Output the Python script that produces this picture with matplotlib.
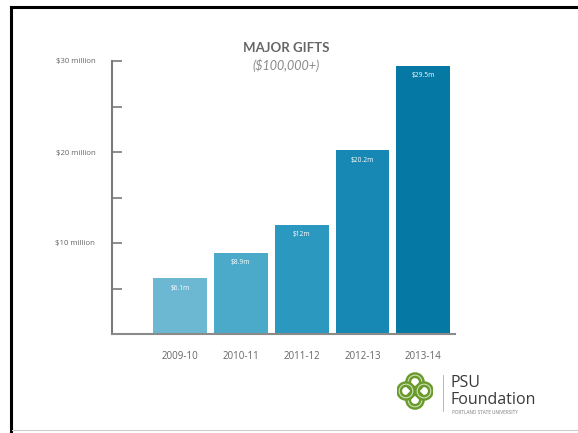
import matplotlib
matplotlib.use("Agg")
import matplotlib.pyplot as plt
from matplotlib.lines import Line2D
from matplotlib.patches import Circle

# fiscal years and major gift totals ($ millions)
years = ["2009-10", "2010-11", "2011-12", "2012-13", "2013-14"]
gifts = [6.1, 8.9, 12.0, 20.2, 29.5]
value_labels = ["$6.1m", "$8.9m", "$12m", "$20.2m", "$29.5m"]
bar_colors = ["#6cb7d2", "#4ba9c9", "#2b98bf", "#1688b3", "#0578a3"]
y_ticks = [5, 10, 15, 20, 25, 30]
y_tick_labels = ["", "$10 million", "", "$20 million", "", "$30 million"]

grey = "#666666"

fig = plt.figure(figsize=(5.78, 4.33), dpi=100)
fig.patch.set_facecolor("white")

ax = fig.add_axes([112 / 578, 1 - 334 / 433, (455 - 112) / 578, (334 - 61) / 433])
x = range(len(years))
ax.bar(x, gifts, width=0.885, color=bar_colors, zorder=2)
for i, (v, lab) in enumerate(zip(gifts, value_labels)):
    ax.text(i, v - 0.7, lab, ha="center", va="top", color="white",
            fontsize=4.8, family="Open Sans")

ax.set_xlim(-1.115, 4.52)
ax.set_ylim(0, 30)
ax.set_yticks(y_ticks)
ax.set_yticklabels(y_tick_labels, fontsize=5.6, color=grey, family="Open Sans")
ax.set_xticks(list(x))
ax.set_xticklabels(years, fontsize=7, color=grey, family="Open Sans")
ax.tick_params(axis="y", direction="in", length=7, width=1.2, color="#7a7a7a", pad=12)
ax.tick_params(axis="x", length=0, pad=12)
for s in ["top", "right"]:
    ax.spines[s].set_visible(False)
ax.spines["left"].set_color("#7a7a7a")
ax.spines["left"].set_linewidth(1.5)
ax.spines["bottom"].set_color("#8a8a8a")
ax.spines["bottom"].set_linewidth(1.5)

# title
fig.text(286 / 578, 1 - 48 / 433, "MAJOR GIFTS", ha="center", va="center",
         fontsize=9.5, color="#666666", family="Lato", weight="bold")
fig.text(286 / 578, 1 - 65 / 433, "($100,000+)", ha="center", va="center",
         fontsize=9, color="#8a8a8a", family="Lato", style="italic")

# frame around the slide
fig.add_artist(Line2D([11 / 578, 1], [1 - 7 / 433] * 2, color="black", lw=2.2))
fig.add_artist(Line2D([11 / 578] * 2, [0, 1 - 7 / 433], color="black", lw=2.2))
fig.add_artist(Line2D([12 / 578, 1], [1 - 430 / 433] * 2, color="#cccccc", lw=0.8))

# PSU Foundation logo
lax = fig.add_axes([397 / 578, 1 - 411 / 433, 36 / 578, 40 / 433])
lax.set_xlim(-1, 1)
lax.set_ylim(-1.1, 1.1)
lax.set_aspect("equal")
lax.axis("off")
green = "#6b9a2c"
for cx, cy in [(0, 0.5), (0, -0.5), (0.5, 0), (-0.5, 0)]:
    lax.add_patch(Circle((cx, cy), 0.38, facecolor="none", edgecolor=green, lw=4.2))
    lax.add_patch(Circle((cx, cy), 0.38, facecolor="none", edgecolor="#dce8c8", lw=0.7))
fig.add_artist(Line2D([443 / 578] * 2, [1 - 375 / 433, 1 - 411 / 433],
                      color="#b0b0b0", lw=0.6))
fig.text(451 / 578, 1 - 383 / 433, "PSU", fontsize=11.5, color="#3a3a3a",
         family="Open Sans", va="center")
fig.text(451 / 578, 1 - 400 / 433, "Foundation", fontsize=11.5, color="#3a3a3a",
         family="Open Sans", va="center")
fig.text(452 / 578, 1 - 413 / 433, "PORTLAND STATE UNIVERSITY", fontsize=3.3,
         color="#777777", family="Open Sans", va="center")

fig.savefig("out.png", dpi=100)
